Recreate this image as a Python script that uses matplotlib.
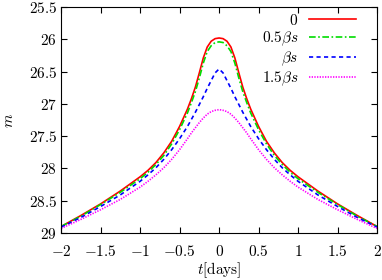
import numpy as np
import matplotlib
matplotlib.use("Agg")
import matplotlib.pyplot as plt

plt.rcParams["mathtext.fontset"] = "cm"
plt.rcParams["font.family"] = "serif"
plt.rcParams["font.serif"] = ["cmr10", "DejaVu Serif"]
plt.rcParams["axes.unicode_minus"] = False

# time in days
t = [-2.0, -1.75, -1.5, -1.25, -1.0, -0.9, -0.8, -0.7, -0.6, -0.5, -0.4, -0.35, -0.3, -0.25, -0.2, -0.15, -0.1, -0.05, 0.0,
     0.05, 0.1, 0.15, 0.2, 0.25, 0.3, 0.35, 0.4, 0.5, 0.6, 0.7, 0.8, 0.9, 1.0, 1.25, 1.5, 1.75, 2.0]

m_0 = [28.90, 28.73, 28.55, 28.35, 28.13, 28.03, 27.91, 27.76, 27.58, 27.35, 27.08, 26.92, 26.74, 26.52, 26.29, 26.12, 26.03, 25.99, 25.98,
       25.99, 26.03, 26.12, 26.29, 26.52, 26.74, 26.92, 27.08, 27.35, 27.58, 27.76, 27.91, 28.03, 28.13, 28.35, 28.55, 28.73, 28.90]
m_05 = [28.90, 28.74, 28.56, 28.37, 28.16, 28.06, 27.94, 27.80, 27.62, 27.40, 27.14, 26.98, 26.81, 26.60, 26.37, 26.19, 26.10, 26.05, 26.04,
        26.05, 26.10, 26.19, 26.37, 26.60, 26.81, 26.98, 27.14, 27.40, 27.62, 27.80, 27.94, 28.06, 28.16, 28.37, 28.56, 28.74, 28.90]
m_1 = [28.91, 28.76, 28.59, 28.41, 28.20, 28.10, 27.99, 27.86, 27.71, 27.54, 27.35, 27.24, 27.13, 27.01, 26.89, 26.76, 26.64, 26.52, 26.46,
       26.52, 26.64, 26.76, 26.89, 27.01, 27.13, 27.24, 27.35, 27.54, 27.71, 27.86, 27.99, 28.10, 28.20, 28.41, 28.59, 28.76, 28.91]
m_15 = [28.93, 28.79, 28.64, 28.48, 28.29, 28.20, 28.10, 27.99, 27.86, 27.71, 27.54, 27.45, 27.37, 27.29, 27.22, 27.16, 27.12, 27.10, 27.09,
        27.10, 27.12, 27.16, 27.22, 27.29, 27.37, 27.45, 27.54, 27.71, 27.86, 27.99, 28.10, 28.20, 28.29, 28.48, 28.64, 28.79, 28.93]

labels = [r"$0$", r"$0.5\beta s$", r"$\beta s$", r"$1.5\beta s$"]
xticks = [-2, -1.5, -1, -0.5, 0, 0.5, 1, 1.5, 2]
yticks = [25.5, 26, 26.5, 27, 27.5, 28, 28.5, 29]

fig = plt.figure(figsize=(3.82, 2.80), dpi=100)
ax = fig.add_axes([0.160, 0.168, 0.827, 0.807])

ax.plot(t, m_0, "-", color="#ff0000", lw=1.2, label=labels[0])
ax.plot(t, m_05, "-.", color="#00dd00", lw=1.2, dashes=(4, 1.5, 1, 1.5), label=labels[1])
ax.plot(t, m_1, "--", color="#0000ff", lw=1.2, dashes=(2.5, 2), label=labels[2])
ax.plot(t, m_15, ":", color="#ff00ff", lw=1.2, dashes=(0.8, 0.8), label=labels[3])

ax.set_xlim(-2, 2)
ax.set_ylim(29, 25.5)
ax.set_xticks(xticks)
ax.set_xticklabels([r"$%g$" % v if v >= 0 else r"$-%g$" % -v for v in xticks])
ax.set_yticks(yticks)
ax.set_yticklabels([r"$%g$" % v for v in yticks])
ax.tick_params(direction="in", top=True, right=True, length=4, labelsize=11)
ax.tick_params(axis="x", pad=8)
ax.tick_params(axis="y", pad=3)
ax.set_xlabel(r"$t[\mathrm{days}]$", fontsize=11, labelpad=1)
ax.set_ylabel(r"$m$", fontsize=11, labelpad=9)

ax.legend(loc="upper right", bbox_to_anchor=(0.934, 0.975), frameon=False, markerfirst=False,
          fontsize=11, handlelength=3.1, labelspacing=0.12, borderaxespad=0, borderpad=0,
          handletextpad=0.7)

fig.savefig("out.png", dpi=100)
